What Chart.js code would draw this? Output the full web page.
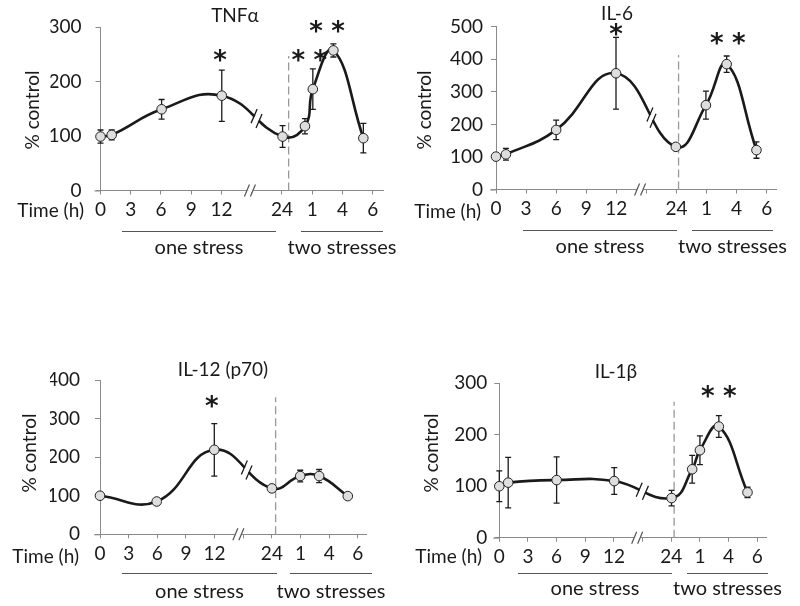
<!DOCTYPE html>
<html lang="en">
<head>
<meta charset="UTF-8">
<title>Cytokine release after one and two stresses</title>
<script src="https://cdn.jsdelivr.net/npm/chart.js"></script>
<style>
  body { margin: 0; background: #fff; }
  .panel { position: absolute; width: 400px; height: 303px; }
</style>
</head>
<body>
<div class="panel" style="left:0;top:0"><canvas id="c1" width="400" height="303"></canvas></div>
<div class="panel" style="left:400px;top:0"><canvas id="c2" width="400" height="303"></canvas></div>
<div class="panel" style="left:0;top:303px"><canvas id="c3" width="400" height="303"></canvas></div>
<div class="panel" style="left:400px;top:303px"><canvas id="c4" width="400" height="303"></canvas></div>

<script>
// shared time axis (slot 5 is the axis break)
const timeSlots = [0, 1, 2, 3, 4, 5, 6, 7, 8, 9];
const timeLabels = ['0', '3', '6', '9', '12', '', '24', '1', '4', '6'];

// TNFα
const tnfX = [0, 0.37, 2.02, 4.01, 6.02, 6.76, 7.02, 7.7, 8.69];
const tnfY = [99, 102, 149, 174, 99, 118, 186, 257, 96];
const tnfErr = [12, 9, 18, 47, 20, 14, 37, 12, 27];
const tnfTicks = [0, 100, 200, 300];
const tnfStars = [[3.95, 252, 1], [6.9, 252, 2], [7.49, 306, 2]];

// IL-6
const il6X = [0, 0.33, 2.0, 3.99, 5.98, 6.98, 7.67, 8.66];
const il6Y = [101, 108, 183, 357, 131, 259, 385, 121];
const il6Err = [0, 18, 30, 110, 8, 43, 25, 25];
const il6Ticks = [0, 100, 200, 300, 400, 500];
const il6Stars = [[3.99, 500, 1], [7.71, 470, 2]];

// IL-12 (p70)
const il12X = [0, 1.98, 3.99, 6.0, 6.99, 7.65, 8.65];
const il12Y = [100, 85, 219, 119, 151, 151, 99];
const il12Err = [0, 0, 68, 0, 15, 17, 0];
const il12Ticks = [0, 100, 200, 300, 400];
const il12Stars = [[3.9, 350, 1]];

// IL-1β
const il1X = [0, 0.31, 2.0, 4.01, 6.01, 6.73, 7.0, 7.66, 8.66];
const il1Y = [100, 107, 112, 110, 77, 133, 170, 216, 88];
const il1Err = [30, 49, 45, 26, 15, 27, 28, 21, 10];
const il1Ticks = [0, 100, 200, 300];
const il1Stars = [[7.66, 289, 2]];

const FONT = 'Lato';
const INK = '#1a1a1a';
const AXIS = '#8a8a8a';

function curveAt(pts, bx) {
  for (let i = 0; i < pts.length - 1; i++) {
    const a = pts[i], b = pts[i + 1];
    if (bx < a.x || bx > b.x) continue;
    const P = [[a.x, a.y], [a.cp2x, a.cp2y], [b.cp1x, b.cp1y], [b.x, b.y]];
    const bez = (t, k) => {
      const u = 1 - t;
      return u * u * u * P[0][k] + 3 * u * u * t * P[1][k] + 3 * u * t * t * P[2][k] + t * t * t * P[3][k];
    };
    let lo = 0, hi = 1;
    for (let n = 0; n < 40; n++) {
      const m = (lo + hi) / 2;
      if (bez(m, 0) < bx) lo = m; else hi = m;
    }
    const t = (lo + hi) / 2;
    const t1 = Math.max(0, t - 0.01), t2 = Math.min(1, t + 0.01);
    return { y: bez(t, 1), ang: Math.atan2(bez(t2, 1) - bez(t1, 1), bez(t2, 0) - bez(t1, 0)) };
  }
  return null;
}

const decor = {
  id: 'decor',
  beforeDatasetsDraw(chart, args, o) {
    const { ctx, scales: { x, y } } = chart;
    const pts = chart.data.datasets[0].data;
    ctx.save();
    // separator between one and two stresses
    const dx = x.getPixelForValue(o.dash[0]);
    ctx.strokeStyle = '#999';
    ctx.lineWidth = 1.3;
    ctx.setLineDash([8, 4]);
    ctx.beginPath();
    ctx.moveTo(dx, y.getPixelForValue(0));
    ctx.lineTo(dx, y.getPixelForValue(o.dash[1]));
    ctx.stroke();
    ctx.setLineDash([]);
    // error bars
    ctx.strokeStyle = INK;
    ctx.lineWidth = 1.3;
    o.err.forEach((e, i) => {
      if (!e) return;
      const p = pts[i];
      const px = x.getPixelForValue(p.x);
      const top = y.getPixelForValue(p.y + e), bot = y.getPixelForValue(p.y - e);
      ctx.beginPath();
      ctx.moveTo(px, top); ctx.lineTo(px, bot);
      ctx.moveTo(px - 3, top); ctx.lineTo(px + 3, top);
      ctx.moveTo(px - 3, bot); ctx.lineTo(px + 3, bot);
      ctx.stroke();
    });
    ctx.restore();
  },
  afterDatasetsDraw(chart, args, o) {
    const { ctx, scales: { x, y } } = chart;
    const area = chart.chartArea;
    ctx.save();

    // stub of the x axis left of the y axis
    ctx.strokeStyle = AXIS;
    ctx.lineWidth = 1;
    ctx.beginPath();
    ctx.moveTo(area.left - 6, area.bottom + 0.5);
    ctx.lineTo(area.left, area.bottom + 0.5);
    ctx.stroke();

    // axis break
    const ab = x.getPixelForValue(o.axisBreak);
    ctx.fillStyle = '#fff';
    ctx.fillRect(ab - 3, area.bottom - 2, 6, 4);
    ctx.strokeStyle = '#555';
    ctx.lineWidth = 1.2;
    [-3, 3].forEach(d => {
      ctx.beginPath();
      ctx.moveTo(ab + d - 2.5, area.bottom + 6);
      ctx.lineTo(ab + d + 2.5, area.bottom - 6);
      ctx.stroke();
    });

    // curve break
    const meta = chart.getDatasetMeta(0);
    const cb = x.getPixelForValue(o.curveBreak);
    const c = curveAt(meta.data, cb);
    if (c) {
      ctx.save();
      ctx.translate(cb, c.y);
      ctx.rotate(c.ang);
      ctx.fillStyle = '#fff';
      ctx.fillRect(-3, -5, 6, 10);
      ctx.restore();
      ctx.strokeStyle = INK;
      ctx.lineWidth = 1.3;
      [-3.5, 3.5].forEach(d => {
        const px = cb + d * Math.cos(c.ang), py = c.y + d * Math.sin(c.ang);
        ctx.beginPath();
        ctx.moveTo(px - 3, py + 7);
        ctx.lineTo(px + 3, py - 7);
        ctx.stroke();
      });
    }

    // significance stars
    ctx.fillStyle = INK;
    ctx.font = 'bold 26px "DejaVu Sans"';
    ctx.textAlign = 'center';
    ctx.textBaseline = 'alphabetic';
    o.stars.forEach(([sx, sy, n]) => {
      const px = x.getPixelForValue(sx), py = y.getPixelForValue(sy);
      for (let k = 0; k < n; k++) {
        const off = (k - (n - 1) / 2) * 22;
        ctx.fillText('*', px + off, py + 16);
      }
    });

    // title
    ctx.font = '19px ' + FONT;
    ctx.textBaseline = 'middle';
    ctx.fillText(o.title, o.titleAt[0], o.titleAt[1]);

    // y title
    ctx.save();
    ctx.translate(o.yTitleAt[0], o.yTitleAt[1]);
    ctx.rotate(-Math.PI / 2);
    ctx.font = '19px ' + FONT;
    ctx.fillText('% control', 0, 0);
    ctx.restore();

    // x caption
    ctx.font = '19px ' + FONT;
    ctx.textAlign = 'right';
    ctx.fillText('Time (h)', o.timeAt[0], o.timeAt[1]);

    // group brackets
    ctx.font = '20px ' + FONT;
    ctx.textAlign = 'center';
    ctx.strokeStyle = '#555';
    ctx.lineWidth = 1;
    [[o.one, 'one stress'], [o.two, 'two stresses']].forEach(([g, txt]) => {
      ctx.beginPath();
      ctx.moveTo(g[0], g[2] + 0.5);
      ctx.lineTo(g[1], g[2] + 0.5);
      ctx.stroke();
      ctx.fillText(txt, (g[0] + g[1]) / 2, g[3]);
    });
    ctx.restore();
  }
};

const panels = [
  { id: 'c1', title: 'TNFα', xs: tnfX, ys: tnfY, err: tnfErr, ticks: tnfTicks, stars: tnfStars,
    xMax: 9.34, pad: { left: 50.5, top: 27, right: 17, bottom: 72.5 }, yLabelPad: 14,
    dash: [6.22, 247], curveBreak: 5.16, axisBreak: 4.94,
    titleAt: [235, 16], yTitleAt: [33, 110], timeAt: [84, 211],
    one: [122, 276, 231, 248], two: [301, 383, 231, 248] },
  { id: 'c2', title: 'IL-6', xs: il6X, ys: il6Y, err: il6Err, ticks: il6Ticks, stars: il6Stars,
    xMax: 9.31, pad: { left: 46, top: 26.7, right: 24, bottom: 73.5 }, yLabelPad: 8,
    dash: [6.07, 413], curveBreak: 5.17, axisBreak: 4.79,
    titleAt: [217, 14], yTitleAt: [25, 110], timeAt: [81, 212],
    one: [123, 277, 230, 247], two: [292, 373, 230, 247] },
  { id: 'c3', title: 'IL-12 (p70)', xs: il12X, ys: il12Y, err: il12Err, ticks: il12Ticks, stars: il12Stars,
    xMax: 9.31, pad: { left: 50, top: 77, right: 33.3, bottom: 31.7 }, yLabelPad: 15,
    dash: [6.13, 355], curveBreak: 5.12, axisBreak: 4.83,
    titleAt: [223, 67], yTitleAt: [30, 150], timeAt: [79, 254],
    one: [122, 277, 270, 289], two: [290, 372, 270, 289] },
  { id: 'c4', title: 'IL-1β', xs: il1X, ys: il1Y, err: il1Err, ticks: il1Ticks, stars: il1Stars,
    xMax: 9.33, pad: { left: 49.3, top: 80.3, right: 33.3, bottom: 28.3 }, yLabelPad: 7,
    dash: [6.1, 264], curveBreak: 4.99, axisBreak: 4.81,
    titleAt: [216, 69], yTitleAt: [32, 150], timeAt: [82, 254],
    one: [118, 272, 270, 286], two: [287, 368, 270, 286] }
];

panels.forEach(p => {
  new Chart(document.getElementById(p.id), {
    type: 'scatter',
    data: {
      datasets: [{
        data: p.xs.map((v, i) => ({ x: v, y: p.ys[i] })),
        showLine: true,
        tension: 0.45,
        borderColor: INK,
        borderWidth: 2.6,
        pointRadius: 4.8,
        pointBackgroundColor: '#dedede',
        pointBorderColor: '#222',
        pointBorderWidth: 1,
        clip: false
      }]
    },
    options: {
      responsive: false,
      animation: false,
      events: [],
      layout: { padding: p.pad },
      scales: {
        x: {
          type: 'linear',
          min: 0,
          max: p.xMax,
          afterBuildTicks: axis => { axis.ticks = timeSlots.map(v => ({ value: v })); },
          afterFit: s => { s.height = 40; },
          border: { color: AXIS, width: 1 },
          grid: { drawOnChartArea: false, drawTicks: true, tickLength: 4, color: AXIS },
          ticks: {
            autoSkip: false, maxRotation: 0, padding: 4, color: INK,
            font: { family: FONT, size: 19 },
            callback: (v, i) => timeLabels[i]
          }
        },
        y: {
          min: 0,
          max: p.ticks[p.ticks.length - 1],
          afterBuildTicks: axis => { axis.ticks = p.ticks.map(v => ({ value: v })); },
          afterFit: s => { s.width = 50; },
          border: { color: AXIS, width: 1 },
          grid: { drawOnChartArea: false, drawTicks: true, tickLength: 5, color: AXIS },
          ticks: { padding: p.yLabelPad, color: INK, font: { family: FONT, size: 19 } }
        }
      },
      plugins: {
        legend: { display: false },
        tooltip: { enabled: false },
        decor: p
      }
    },
    plugins: [decor]
  });
});
</script>
</body>
</html>
